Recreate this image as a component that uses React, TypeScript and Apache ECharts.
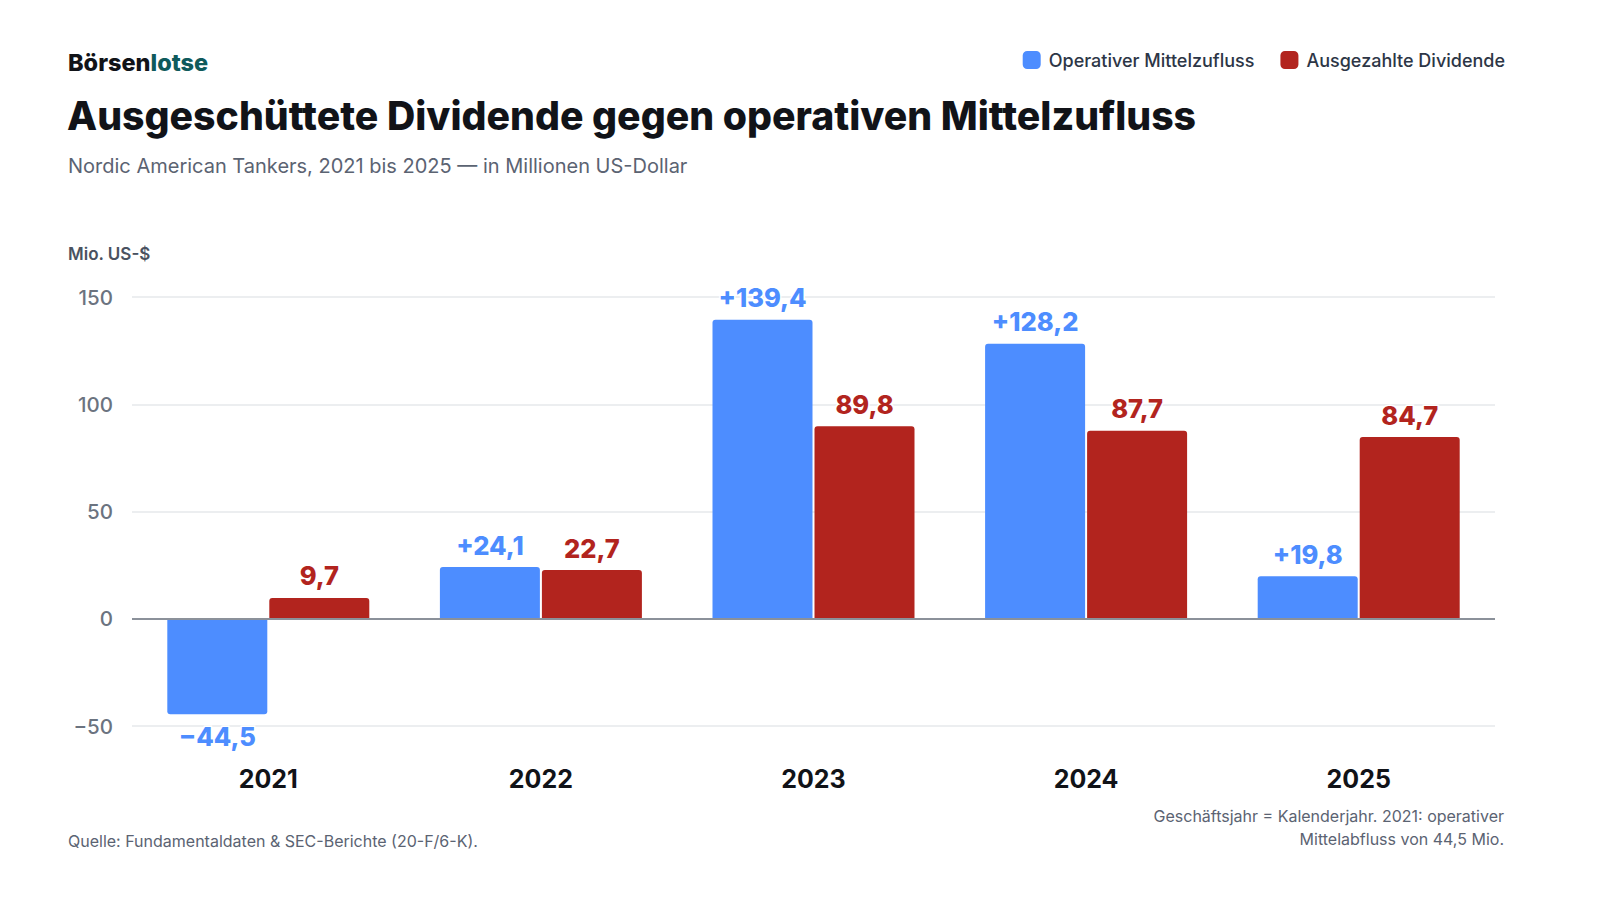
import React, { useEffect, useRef } from 'react';
import * as echarts from 'echarts';

const years = ['2021', '2022', '2023', '2024', '2025'];
const operativerMittelzufluss = [-44.5, 24.1, 139.4, 128.2, 19.8];
const ausgezahlteDividende = [9.7, 22.7, 89.8, 87.7, 84.7];
const yTicks = { min: -50, max: 150, interval: 50 };

const BLUE = '#4d8dff';
const RED = '#b2241e';
const FONT = 'Inter, "Noto Sans", sans-serif';

const fmt = (v: number, signed: boolean) => {
  const s = Math.abs(v).toFixed(1).replace('.', ',');
  if (!signed) return s;
  return (v < 0 ? '\u2212' : '+') + s;
};

const App: React.FC = () => {
  const chartRef = useRef<HTMLDivElement>(null);

  useEffect(() => {
    document.body.style.margin = '0';
    if (!chartRef.current) return;
    const myChart = echarts.init(chartRef.current, undefined, { renderer: 'svg' });

    const option: echarts.EChartsOption = {
      animation: false,
      backgroundColor: '#ffffff',
      textStyle: { fontFamily: FONT },
      title: [
        {
          text: '{a|Börsen}{b|lotse}',
          left: 63,
          top: 45,
          textStyle: {
            rich: {
              a: { fontSize: 23.5, fontWeight: 800, color: '#111318', fontFamily: FONT },
              b: { fontSize: 23.5, fontWeight: 800, color: '#0f5a5c', fontFamily: FONT },
            },
          },
        },
        {
          text: 'Ausgeschüttete Dividende gegen operativen Mittelzufluss',
          left: 62,
          top: 91,
          textStyle: { fontSize: 39.2, fontWeight: 800, color: '#111318', fontFamily: FONT },
        },
        {
          text: 'Nordic American Tankers, 2021 bis 2025 — in Millionen US-Dollar',
          left: 63,
          top: 151,
          textStyle: { fontSize: 20, fontWeight: 400, color: '#5b6372', fontFamily: FONT },
        },
        {
          text: 'Mio. US-$',
          left: 63,
          top: 240,
          textStyle: { fontSize: 17, fontWeight: 600, color: '#4a5261', fontFamily: FONT },
        },
        {
          text: 'Quelle: Fundamentaldaten & SEC-Berichte (20-F/6-K).',
          left: 63,
          top: 828,
          textStyle: { fontSize: 16, fontWeight: 400, color: '#5b6372', fontFamily: FONT },
        },
      ],
      graphic: [
        {
          type: 'text',
          right: 96,
          top: 804,
          style: {
            text: 'Geschäftsjahr = Kalenderjahr. 2021: operativer\nMittelabfluss von 44,5 Mio.',
            textAlign: 'right',
            fontSize: 16,
            fontWeight: 400,
            lineHeight: 23,
            fill: '#5b6372',
            fontFamily: FONT,
          },
        },
      ],
      legend: {
        right: 95,
        top: 51,
        padding: 0,
        itemWidth: 18,
        itemHeight: 18,
        itemGap: 26,
        icon: 'roundRect',
        textStyle: { fontSize: 18, fontWeight: 500, color: '#2d3646', fontFamily: FONT, padding: [0, 0, 0, 3] },
        data: ['Operativer Mittelzufluss', 'Ausgezahlte Dividende'],
      },
      grid: {
        left: 132,
        right: 105,
        top: 297,
        bottom: 174,
        containLabel: false,
      },
      xAxis: {
        type: 'category',
        data: years,
        position: 'bottom',
        axisLine: { show: false },
        axisTick: { show: false },
        axisLabel: {
          fontSize: 25,
          fontWeight: 700,
          color: '#111318',
          margin: 40,
          fontFamily: FONT,
        },
      },
      yAxis: {
        type: 'value',
        min: yTicks.min,
        max: yTicks.max,
        interval: yTicks.interval,
        axisLine: { show: false },
        axisTick: { show: false },
        splitLine: { lineStyle: { color: '#e6e8eb', width: 1.5 } },
        axisLabel: {
          fontSize: 20.5,
          fontWeight: 500,
          color: '#6b7380',
          margin: 19,
          fontFamily: FONT,
          formatter: (v: number) => (v < 0 ? '\u2212' + Math.abs(v) : String(v)),
        },
      },
      series: [
        {
          name: 'Operativer Mittelzufluss',
          type: 'bar',
          barWidth: 100,
          barGap: '2%',
          itemStyle: { color: BLUE },
          data: operativerMittelzufluss.map((v) => ({
            value: v,
            itemStyle: { borderRadius: v < 0 ? [0, 0, 3, 3] : [3, 3, 0, 0] },
            label: { position: v < 0 ? 'bottom' : 'top' },
          })),
          label: {
            show: true,
            distance: 9,
            fontSize: 25.5,
            fontWeight: 800,
            color: BLUE,
            textBorderColor: '#ffffff',
            textBorderWidth: 3,
            fontFamily: FONT,
            formatter: (p: any) => fmt(p.value, true),
          },
          markLine: {
            silent: true,
            symbol: 'none',
            label: { show: false },
            lineStyle: { color: '#8b919a', width: 2, type: 'solid' },
            data: [{ yAxis: 0 }],
          },
        },
        {
          name: 'Ausgezahlte Dividende',
          type: 'bar',
          barWidth: 100,
          barGap: '2%',
          itemStyle: { color: RED, borderRadius: [3, 3, 0, 0] },
          data: ausgezahlteDividende,
          label: {
            show: true,
            position: 'top',
            distance: 9,
            fontSize: 25.5,
            fontWeight: 800,
            color: RED,
            textBorderColor: '#ffffff',
            textBorderWidth: 3,
            fontFamily: FONT,
            formatter: (p: any) => fmt(p.value, false),
          },
        },
      ],
    };

    myChart.setOption(option);

    const handleResize = () => myChart.resize();
    window.addEventListener('resize', handleResize);

    return () => {
      window.removeEventListener('resize', handleResize);
      myChart.dispose();
    };
  }, []);

  return <div ref={chartRef} style={{ width: '1600px', height: '900px' }} />;
};

export default App;
